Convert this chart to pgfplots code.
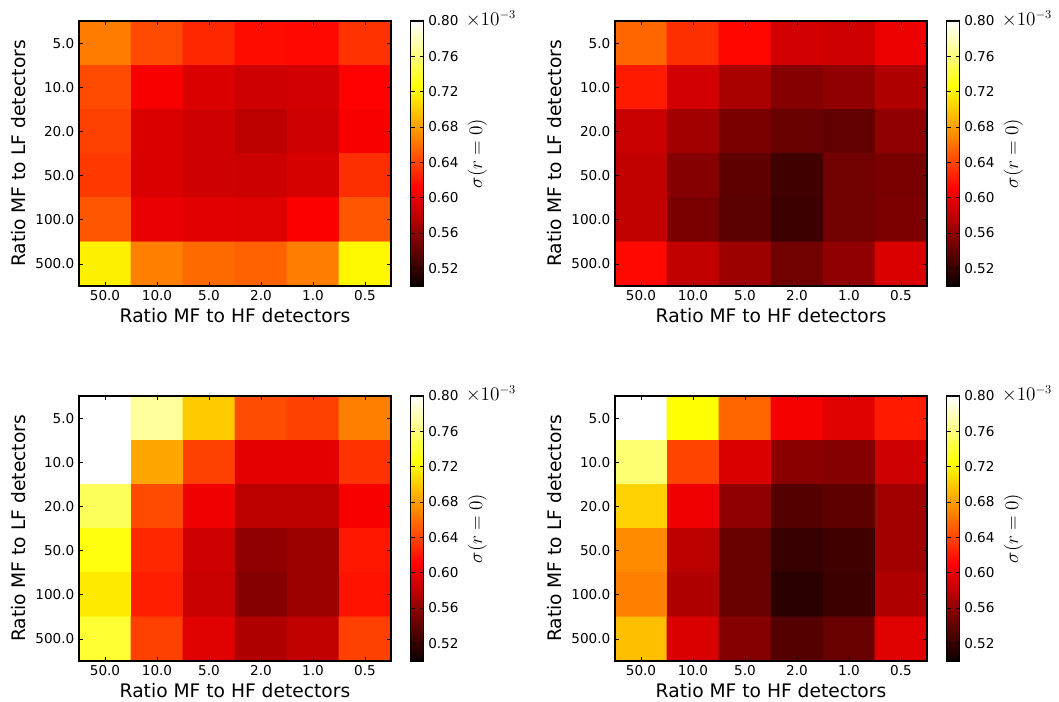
\documentclass[border=0pt]{standalone}
\usepackage{pgfplots}
\pgfplotsset{compat=1.18}
\usepackage{fontspec}
\setmainfont{DejaVu Sans}
\pgfplotsset{
  colormap={hot}{rgb(0pt)=(0.0416,0,0); rgb(365pt)=(1,0,0); rgb(746pt)=(1,1,0); rgb(1000pt)=(1,1,1)},
  hm/.style={
    scale only axis, width=234pt, height=198.75pt,
    anchor=south west,
    xmin=-0.5, xmax=5.5, ymin=-0.5, ymax=5.5,
    y dir=reverse,
    xtick={0,...,5}, ytick={0,...,5},
    xticklabels={50.0,10.0,5.0,2.0,1.0,0.5},
    yticklabels={5.0,10.0,20.0,50.0,100.0,500.0},
    tick align=inside, major tick length=3pt,
    tick style={black, line width=0.6pt},
    axis line style={line width=0.8pt},
    ticklabel style={font=\fontsize{10.2}{12}\selectfont},
    label style={font=\fontsize{14}{16}\selectfont},
    xlabel={Ratio MF to HF detectors},
    xlabel style={yshift=1.5pt},
    ylabel={Ratio MF to LF detectors},
    axis on top,
    colormap name=hot,
    point meta min=0.50, point meta max=0.80,
    enlargelimits=false,
    colorbar,
    colorbar shift/.style={xshift=14.25pt},
    colorbar style={
      width=9.75pt,
      ytick={0.52,0.56,0.60,0.64,0.68,0.72,0.76,0.80},
      yticklabels={0.52,0.56,0.60,0.64,0.68,0.72,0.76,0.80},
      yticklabel style={font=\fontsize{10.2}{12}\selectfont},
      ylabel={$\sigma(r=0)$},
      ylabel style={font=\fontsize{14}{16}\selectfont},
      major tick length=3pt,
      axis line style={line width=0.8pt},
    },
  },
  hmplot/.style={matrix plot*, mesh/cols=6, mesh/rows=6, point meta=explicit},
}
\begin{document}
\begin{tikzpicture}
\useasboundingbox (0,0) rectangle (794.25pt,525.75pt);
% Panel 1
\begin{axis}[hm, at={(59.25pt,311.25pt)}, colorbar style={name=cb1}]
\addplot[hmplot] table[meta=c] {
x y c
0 0 0.665
1 0 0.643
2 0 0.627
3 0 0.615
4 0 0.613
5 0 0.632
0 1 0.643
1 1 0.607
2 1 0.593
3 1 0.588
4 1 0.590
5 1 0.610
0 2 0.638
1 2 0.593
2 2 0.588
3 2 0.579
4 2 0.588
5 2 0.607
0 3 0.635
1 3 0.593
2 3 0.588
3 3 0.587
4 3 0.591
5 3 0.630
0 4 0.648
1 4 0.600
2 4 0.597
3 4 0.595
4 4 0.608
5 4 0.648
0 5 0.718
1 5 0.667
2 5 0.657
3 5 0.653
4 5 0.666
5 5 0.720
};
\end{axis}
% Panel 2
\begin{axis}[hm, at={(461.25pt,311.25pt)}, colorbar style={name=cb2}]
\addplot[hmplot] table[meta=c] {
x y c
0 0 0.655
1 0 0.630
2 0 0.612
3 0 0.590
4 0 0.588
5 0 0.601
0 1 0.621
1 1 0.590
2 1 0.571
3 1 0.555
4 1 0.560
5 1 0.574
0 2 0.585
1 2 0.568
2 2 0.549
3 2 0.542
4 2 0.539
5 2 0.560
0 3 0.582
1 3 0.555
2 3 0.538
3 3 0.524
4 3 0.546
5 3 0.549
0 4 0.582
1 4 0.549
2 4 0.536
3 4 0.522
4 4 0.546
5 4 0.551
0 5 0.613
1 5 0.582
2 5 0.566
3 5 0.546
4 5 0.560
5 5 0.593
};
\end{axis}
% Panel 3
\begin{axis}[hm, at={(59.25pt,30pt)}, colorbar style={name=cb3}]
\addplot[hmplot] table[meta=c] {
x y c
0 0 0.800
1 0 0.770
2 0 0.701
3 0 0.644
4 0 0.638
5 0 0.667
0 1 0.800
1 1 0.684
2 1 0.638
3 1 0.598
4 1 0.598
5 1 0.632
0 2 0.751
1 2 0.643
2 2 0.603
3 2 0.579
4 2 0.579
5 2 0.607
0 3 0.728
1 3 0.627
2 3 0.588
3 3 0.560
4 3 0.566
5 3 0.620
0 4 0.715
1 4 0.623
2 4 0.585
3 4 0.555
4 4 0.566
5 4 0.618
0 5 0.739
1 5 0.638
2 5 0.596
3 5 0.574
4 5 0.582
5 5 0.638
};
\end{axis}
% Panel 4
\begin{axis}[hm, at={(461.25pt,30pt)}, colorbar style={name=cb4}]
\addplot[hmplot] table[meta=c] {
x y c
0 0 0.800
1 0 0.725
2 0 0.655
3 0 0.606
4 0 0.596
5 0 0.621
0 1 0.758
1 1 0.640
2 1 0.593
3 1 0.557
4 1 0.555
5 1 0.588
0 2 0.703
1 2 0.603
2 2 0.560
3 2 0.533
4 2 0.538
5 2 0.568
0 3 0.672
1 3 0.579
2 3 0.542
3 3 0.520
4 3 0.524
5 3 0.568
0 4 0.667
1 4 0.574
2 4 0.542
3 4 0.513
4 4 0.522
5 4 0.574
0 5 0.695
1 5 0.593
2 5 0.555
3 5 0.533
4 5 0.542
5 5 0.596
};
\end{axis}
\foreach \c in {cb1,cb2,cb3,cb4}{
  \node[anchor=base west, inner sep=0pt, font=\fontsize{13.5}{15}\selectfont]
    at ([xshift=31.5pt,yshift=-3.5pt]\c.north east) {$\times10^{-3}$};
}
\end{tikzpicture}
\end{document}
